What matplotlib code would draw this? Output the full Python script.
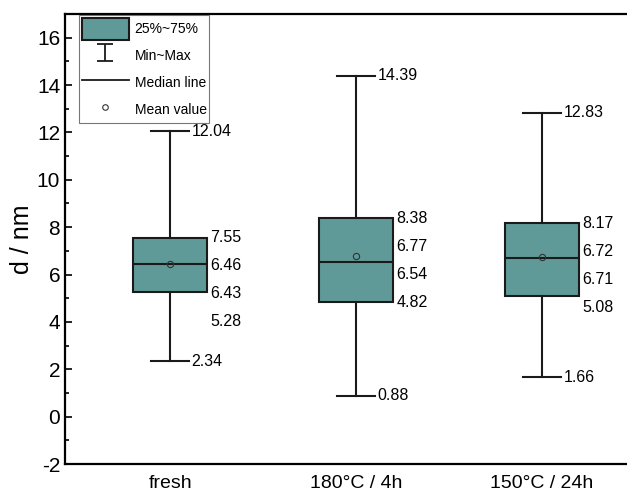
import matplotlib
matplotlib.use("Agg")
import matplotlib.pyplot as plt
import numpy as np
from matplotlib.patches import Patch
from matplotlib.lines import Line2D
from matplotlib.ticker import MultipleLocator
from matplotlib.legend_handler import HandlerErrorbar

plt.rcParams["font.family"] = ["Liberation Sans", "DejaVu Sans"]
plt.rcParams["axes.unicode_minus"] = False

groups = ["fresh", "180°C / 4h", "150°C / 24h"]
mins = [2.34, 0.88, 1.66]
q1s = [5.28, 4.82, 5.08]
medians = [6.43, 6.54, 6.71]
means = [6.46, 6.77, 6.72]
q3s = [7.55, 8.38, 8.17]
maxs = [12.04, 14.39, 12.83]

box_color = "#5F9A98"

fig = plt.figure(figsize=(6.27, 4.94), dpi=100)
ax = fig.add_axes([0.1037, 0.0607, 0.8963, 0.911])

stats = []
for g, lo, a, m, mu, b, hi in zip(groups, mins, q1s, medians, means, q3s, maxs):
    stats.append({"label": g, "whislo": lo, "q1": a, "med": m, "mean": mu,
                  "q3": b, "whishi": hi, "fliers": []})

pos = np.arange(1, len(groups) + 1)
ax.bxp(stats, positions=pos, widths=0.40, showmeans=True, patch_artist=True,
       showfliers=False,
       boxprops=dict(facecolor=box_color, edgecolor="#1a1a1a", linewidth=1.5),
       medianprops=dict(color="#1a1a1a", linewidth=1.5),
       whiskerprops=dict(color="#1a1a1a", linewidth=1.5),
       capprops=dict(color="#1a1a1a", linewidth=1.5),
       capwidths=0.2,
       meanprops=dict(marker="o", markersize=4.5, markerfacecolor="none",
                      markeredgecolor="#333333", markeredgewidth=0.8))

fs = 11.5
for x, lo, a, m, mu, b, hi in zip(pos, mins, q1s, medians, means, q3s, maxs):
    ax.annotate(f"{hi:.2f}", (x + 0.1, hi), xytext=(3, 0), textcoords="offset pixels",
                va="center", ha="left", fontsize=fs)
    ax.annotate(f"{lo:.2f}", (x + 0.1, lo), xytext=(3, 0), textcoords="offset pixels",
                va="center", ha="left", fontsize=fs)
    for k, v in enumerate([b, mu, m, a]):
        ax.annotate(f"{v:.2f}", (x + 0.2, b), xytext=(3, -28 * k),
                    textcoords="offset pixels", va="center", ha="left", fontsize=fs)

ax.set_xlim(0.435, 3.457)
ax.set_ylim(-2, 17)
ax.yaxis.set_major_locator(MultipleLocator(2))
ax.yaxis.set_minor_locator(MultipleLocator(1))
ax.set_yticks(np.arange(-2, 17, 2))
ax.tick_params(axis="y", which="both", direction="in", labelsize=15, width=1.2)
ax.tick_params(axis="y", which="major", length=5)
ax.tick_params(axis="y", which="minor", length=3)
ax.tick_params(axis="x", length=0, labelsize=14, pad=8)
ax.set_xticks(pos)
ax.set_xticklabels(groups)
ax.set_ylabel("d / nm", fontsize=18, labelpad=2)
ax.spines["right"].set_visible(False)
for s in ["left", "top", "bottom"]:
    ax.spines[s].set_linewidth(1.6)

eb = ax.errorbar([np.nan], [np.nan], yerr=[1], fmt="none", ecolor="#1a1a1a",
                 capsize=6, elinewidth=1.3, capthick=1.3)
handles = [
    Patch(facecolor=box_color, edgecolor="#1a1a1a", linewidth=1.5),
    eb,
    Line2D([], [], color="#1a1a1a", linewidth=1.3),
    Line2D([], [], linestyle="none", marker="o", markersize=4, markerfacecolor="none",
           markeredgecolor="#333333", markeredgewidth=0.8),
]
labels = ["25%~75%", "Min~Max", "Median line", "Mean value"]
leg = ax.legend(handles, labels, loc="upper left", bbox_to_anchor=(0.025, 0.997),
                fontsize=10, frameon=True, fancybox=False, edgecolor="#555555",
                handlelength=3.4, handleheight=2.0, labelspacing=0.4,
                borderpad=0.2, handletextpad=0.4, borderaxespad=0.0,
                handler_map={type(eb): HandlerErrorbar(yerr_size=0.6)})
leg.get_frame().set_linewidth(0.8)

fig.savefig("out.png", dpi=100)
